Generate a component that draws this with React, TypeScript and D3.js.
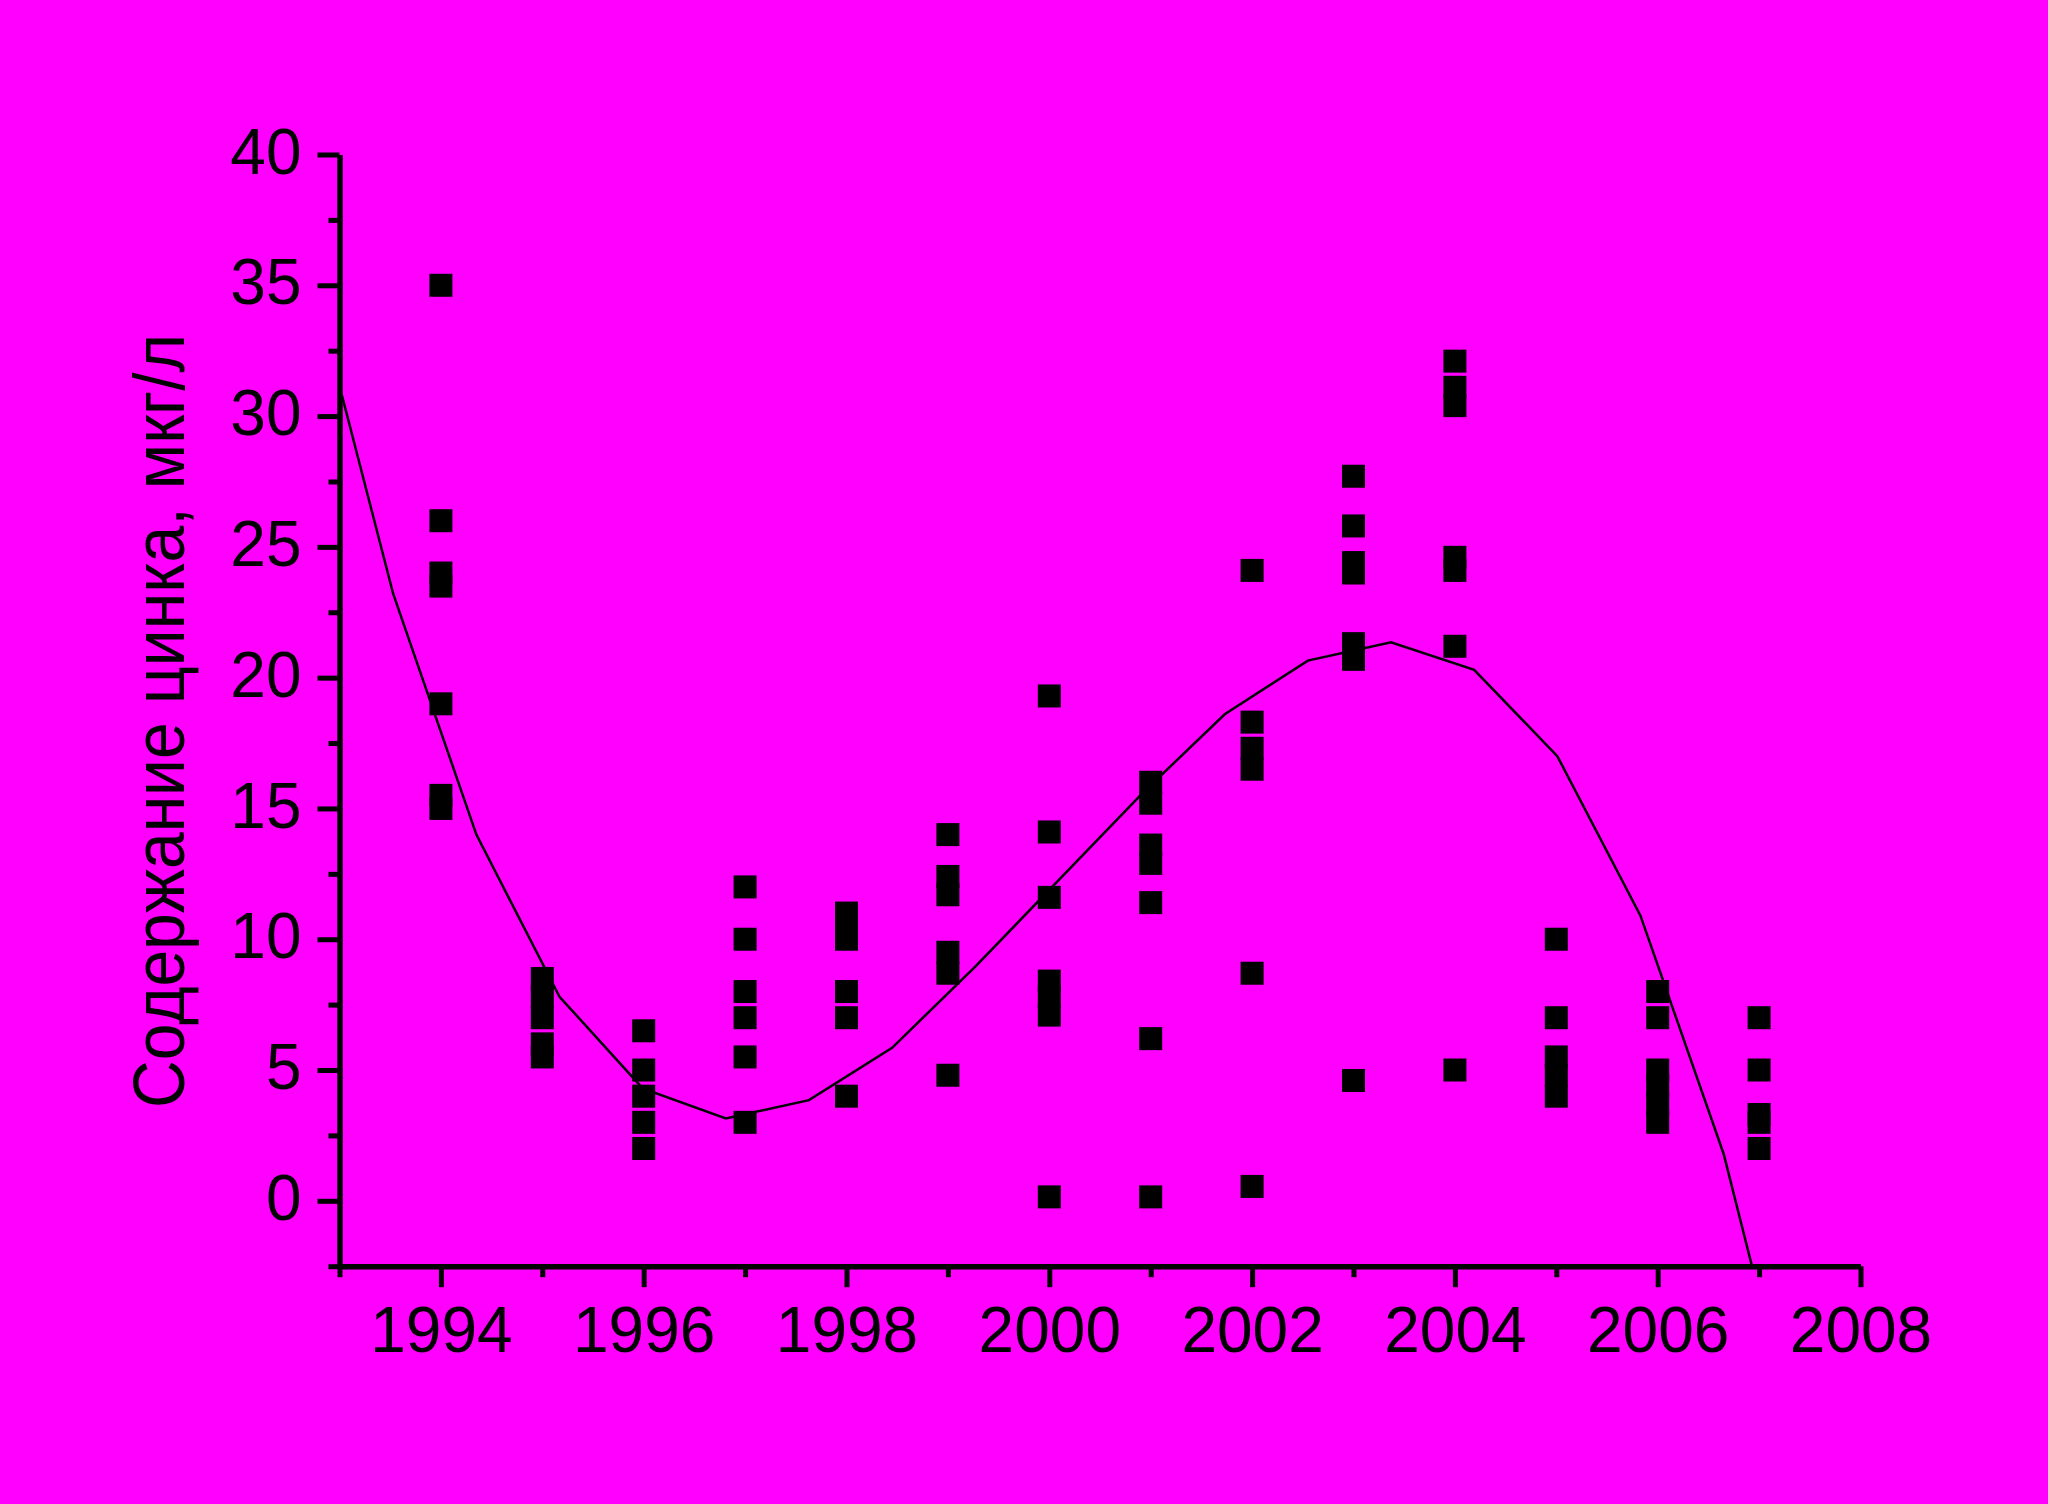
import React, { useEffect, useRef } from 'react';
import * as d3 from 'd3';

// sampling years and measured zinc values (mkg/l) per year
const sampleYears = [1994, 1995, 1996, 1997, 1998, 1999, 2000, 2001, 2002, 2003, 2004, 2005, 2006, 2007];
const zinc1994 = [35, 26, 24, 23.5, 19, 15.5, 15];
const zinc1995 = [8.5, 7.8, 7.0, 6.0, 5.5];
const zinc1996 = [6.5, 5, 4, 3, 2];
const zinc1997 = [12, 10, 8, 7, 5.5, 3];
const zinc1998 = [11, 10.5, 10, 8, 7, 4];
const zinc1999 = [14, 12.4, 11.7, 9.5, 8.7, 4.8];
const zinc2000 = [19.3, 14.1, 11.6, 8.4, 7.8, 7.1, 0.15];
const zinc2001 = [16, 15.2, 13.6, 12.9, 11.4, 6.2, 0.15];
const zinc2002 = [24.1, 18.3, 17.3, 16.5, 8.7, 0.55];
const zinc2003 = [27.7, 25.8, 24.4, 24.0, 21.3, 21.0, 20.7, 4.6];
const zinc2004 = [32.1, 31.1, 30.4, 24.6, 24.1, 21.2, 5];
const zinc2005 = [10, 7, 5.5, 4.8, 4.0];
const zinc2006 = [8, 7, 5, 4.4, 3.7, 3];
const zinc2007 = [7, 5, 3.3, 3, 2];
const zincSamples = [
  zinc1994, zinc1995, zinc1996, zinc1997, zinc1998, zinc1999, zinc2000,
  zinc2001, zinc2002, zinc2003, zinc2004, zinc2005, zinc2006, zinc2007,
];

// polynomial fit curve, as drawn (vertices)
const fitYears = [1992.71, 1993.53, 1994.35, 1995.17, 1995.99, 1996.81, 1997.63, 1998.45, 1999.27, 2000.09,
  2000.91, 2001.73, 2002.55, 2003.37, 2004.19, 2005.01, 2005.83, 2006.65, 2007.47];
const fitValues = [35.5, 23.2, 14.0, 7.8, 4.3, 3.15, 3.85, 5.85, 8.95, 12.25,
  15.55, 18.6, 20.65, 21.35, 20.3, 17.0, 10.9, 1.8, -10.8];

const yTicks = [0, 5, 10, 15, 20, 25, 30, 35, 40];
const yMinorTicks = [-2.5, 2.5, 7.5, 12.5, 17.5, 22.5, 27.5, 32.5, 37.5];
const xTicks = [1994, 1996, 1998, 2000, 2002, 2004, 2006, 2008];
const xMinorTicks = [1993, 1995, 1997, 1999, 2001, 2003, 2005, 2007];

const yTitle = 'Содержание цинка, мкг/л';

const W = 2048;
const H = 1504;
const FONT = '"Liberation Sans", Arial, Helvetica, sans-serif';

export default function App() {
  const ref = useRef<SVGSVGElement>(null);

  useEffect(() => {
    if (!ref.current) return;
    const svg = d3.select(ref.current);
    svg.selectAll('*').remove();

    const x = d3.scaleLinear().domain([1993, 2008]).range([339.5, 1860.5]);
    const y = d3.scaleLinear().domain([-2.5, 40]).range([1266.2, 154.5]);

    svg.append('rect').attr('width', W).attr('height', H).attr('fill', '#ff00ff');

    // clip for the fit curve
    svg.append('clipPath').attr('id', 'plot-clip')
      .append('rect')
      .attr('x', x(1993)).attr('y', y(40))
      .attr('width', x(2008) - x(1993)).attr('height', y(-2.5) - y(40));

    const line = d3.line<number>()
      .x((_, i) => x(fitYears[i]))
      .y(d => y(d));

    svg.append('path')
      .attr('d', line(fitValues))
      .attr('fill', 'none')
      .attr('stroke', '#000')
      .attr('stroke-width', 2.5)
      .attr('clip-path', 'url(#plot-clip)');

    // scatter squares
    const pts = sampleYears.flatMap((yr, i) => zincSamples[i].map(v => ({ yr, v })));
    const s = 23;
    svg.append('g').selectAll('rect')
      .data(pts)
      .enter()
      .append('rect')
      .attr('x', d => x(d.yr) - s / 2)
      .attr('y', d => y(d.v) - s / 2)
      .attr('width', s)
      .attr('height', s)
      .attr('fill', '#000');

    // y axis
    const yAxis = svg.append('g')
      .attr('transform', `translate(${x(1993)},0)`)
      .call(d3.axisLeft(y).tickValues(yTicks).tickSize(22).tickSizeOuter(0).tickPadding(16));
    yAxis.select('.domain').attr('stroke', '#000').attr('stroke-width', 5.5);
    yAxis.selectAll('.tick line').attr('stroke', '#000').attr('stroke-width', 5);
    yAxis.selectAll('.tick text')
      .attr('fill', '#000')
      .attr('dy', '0.29em')
      .style('font-family', FONT)
      .style('font-size', '64px');

    svg.append('g')
      .attr('transform', `translate(${x(1993)},0)`)
      .call(d3.axisLeft(y).tickValues(yMinorTicks).tickSize(11).tickSizeOuter(0).tickFormat(() => ''))
      .call(g => g.select('.domain').remove())
      .selectAll('.tick line').attr('stroke', '#000').attr('stroke-width', 5);

    // x axis
    const xAxis = svg.append('g')
      .attr('transform', `translate(0,${y(-2.5)})`)
      .call(d3.axisBottom(x).tickValues(xTicks).tickSize(21).tickSizeOuter(0).tickPadding(19.5)
        .tickFormat(d => String(d)));
    xAxis.select('.domain').attr('stroke', '#000').attr('stroke-width', 5.5);
    xAxis.selectAll('.tick line').attr('stroke', '#000').attr('stroke-width', 5);
    xAxis.selectAll('.tick text')
      .attr('fill', '#000')
      .style('font-family', FONT)
      .style('font-size', '64px');

    svg.append('g')
      .attr('transform', `translate(0,${y(-2.5)})`)
      .call(d3.axisBottom(x).tickValues(xMinorTicks).tickSize(11).tickSizeOuter(0).tickFormat(() => ''))
      .call(g => g.select('.domain').remove())
      .selectAll('.tick line').attr('stroke', '#000').attr('stroke-width', 5);

    // y title
    svg.append('text')
      .attr('transform', 'translate(184,721) rotate(-90)')
      .attr('text-anchor', 'middle')
      .attr('fill', '#000')
      .attr('textLength', 774)
      .attr('lengthAdjust', 'spacingAndGlyphs')
      .style('font-family', FONT)
      .style('font-size', '72px')
      .text(yTitle);
  }, []);

  return (
    <svg
      ref={ref}
      width={W}
      height={H}
      style={{ position: 'absolute', left: 0, top: 0, display: 'block' }}
    />
  );
}
